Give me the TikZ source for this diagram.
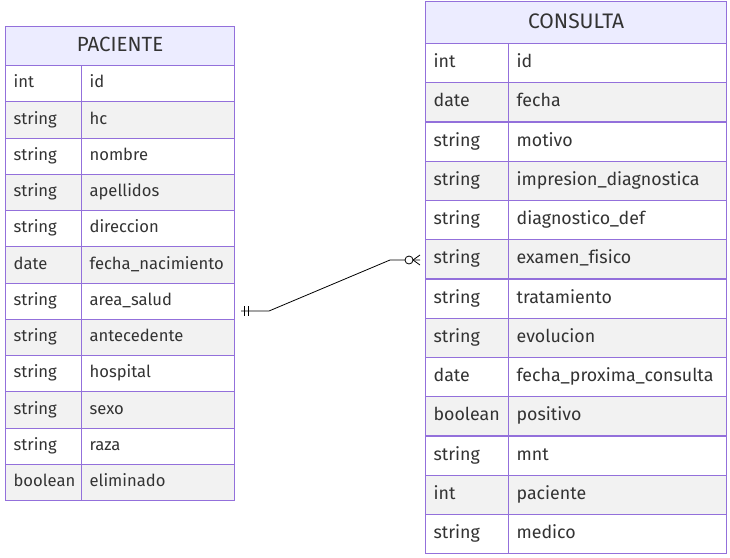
\documentclass[tikz,border=0pt]{standalone}
\usepackage{fontspec}
\usetikzlibrary{calc}
\setmainfont{Fira Sans}[Ligatures=NoCommon]
\definecolor{erborder}{HTML}{9370DB}
\definecolor{erhead}{HTML}{ECECFF}
\definecolor{ergray}{HTML}{F2F2F2}
\definecolor{ertext}{HTML}{333333}
\begin{document}
\begin{tikzpicture}[x=1pt,y=-1pt,
  cell/.style={draw=erborder, line width=1.2pt, anchor=north west, inner xsep=8pt, inner ysep=0pt, align=left, text=ertext, text height=13pt, text depth=4pt, font=\fontsize{17.8}{20}\selectfont},
  pcell/.style={cell, text height=12pt, text depth=3.8pt, font=\fontsize{16.6}{19}\selectfont},
  hdr/.style={draw=erborder, line width=1.2pt, fill=erhead, anchor=north west, inner sep=0pt, text=ertext, text height=15pt, text depth=4pt, font=\fontsize{20.5}{22}\selectfont},
  rel/.style={draw=black, line width=0.8pt}]
\useasboundingbox (0,0) rectangle (730,557);
% PACIENTE
\node[hdr, minimum width=229pt, minimum height=39pt] (pac) at (5,26) {PACIENTE};
\foreach \t/\n [count=\i from 0] in {int/id,string/hc,string/nombre,string/apellidos,string/direccion,date/fecha\_nacimiento,string/area\_salud,string/antecedente,string/hospital,string/sexo,string/raza,boolean/eliminado}{
  \pgfmathsetmacro{\yy}{65+\i*36.25}
  \pgfmathtruncatemacro{\odd}{mod(\i,2)}
  \ifnum\odd=1 \def\fc{ergray}\else\def\fc{white}\fi
  \node[pcell, fill=\fc, text width=60pt, minimum height=36.25pt] (pt\i) at (5,\yy) {\t};
  \node[pcell, fill=\fc, text width=137pt, minimum height=36.25pt] (pn\i) at (81,\yy) {\n};
}
% CONSULTA
\node[hdr, font=\fontsize{21}{22}\selectfont, minimum width=301pt, minimum height=42pt] (con) at (425,1) {CONSULTA};
\foreach \t/\n [count=\i from 0] in {int/id,date/fecha,string/motivo,string/impresion\_diagnostica,string/diagnostico\_def,string/examen\_fisico,string/tratamiento,string/evolucion,date/fecha\_proxima\_consulta,boolean/positivo,string/mnt,int/paciente,string/medico}{
  \pgfmathsetmacro{\yy}{43+\i*39.23}
  \pgfmathtruncatemacro{\odd}{mod(\i,2)}
  \ifnum\odd=1 \def\fc{ergray}\else\def\fc{white}\fi
  \node[cell, fill=\fc, text width=67pt, minimum height=39.23pt] (ct\i) at (425,\yy) {\t};
  \node[cell, fill=\fc, text width=202pt, minimum height=39.23pt] (cn\i) at (508,\yy) {\n};
}
% relationship
\coordinate (a0) at (241,311);
\coordinate (a1) at (269,311);
\coordinate (b1) at (390,260);
\coordinate (b0) at (420,260);
\draw[rel] (a0) -- (a1) -- (b1) -- (b0);
\draw[rel] ($(a0)+(3,-5)$) -- ++(0,10);
\draw[rel] ($(a0)+(7,-5)$) -- ++(0,10);
\draw[rel, fill=white] (409,260) coordinate (oc) circle (4);
\draw[rel] (413,260) -- (420,255) (413,260) -- (420,265);
\end{tikzpicture}
\end{document}
